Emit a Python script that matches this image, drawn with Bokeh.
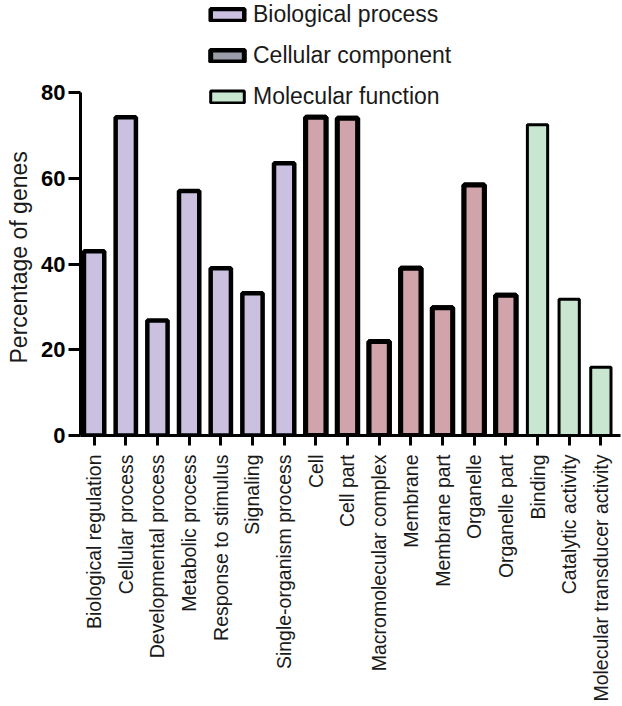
import math
import numpy as np
from bokeh.plotting import figure
from bokeh.models import ColumnDataSource, Range1d, FixedTicker, Legend, LegendItem, Title
from bokeh.embed import file_html
from bokeh.resources import INLINE

categories = [
    "Biological regulation", "Cellular process", "Developmental process",
    "Metabolic process", "Response to stimulus", "Signaling",
    "Single-organism process", "Cell", "Cell part", "Macromolecular complex",
    "Membrane", "Membrane part", "Organelle", "Organelle part",
    "Binding", "Catalytic activity", "Molecular transducer activity",
]
percentages = [43, 74.2, 26.8, 57, 39, 33.2, 63.5, 74.2, 74, 21.9,
               39, 29.8, 58.4, 32.7, 72.5, 31.8, 15.9]
groups = (["Biological process"] * 7 + ["Cellular component"] * 7
          + ["Molecular function"] * 3)
group_names = ["Biological process", "Cellular component", "Molecular function"]
y_ticks = [0, 20, 40, 60, 80]
y_max = 80

bar_fill = {"Biological process": "#cbc0e0", "Cellular component": "#d1a3aa",
            "Molecular function": "#c8e6d0"}
legend_fill = {"Biological process": "#cbc0e0", "Cellular component": "#9b9daa",
               "Molecular function": "#c8e6d0"}
bar_line = {"Biological process": 4.5, "Cellular component": 5,
            "Molecular function": 3}

FONT = "Liberation Sans"

W, H = 622, 706
B_LEFT, B_RIGHT, B_TOP, B_BOTTOM = 78, 2, 0, 271
frame_h = H - B_TOP - B_BOTTOM
y_top_px = 92  # where the 80 line sits, leaving room for the legend above
y_end = y_max * frame_h / (frame_h - (y_top_px - B_TOP))

p = figure(width=W, height=H,
           x_range=Range1d(-0.43, 16.62), y_range=Range1d(0, y_end),
           output_backend="svg", toolbar_location=None,
           min_border_left=B_LEFT, min_border_right=B_RIGHT,
           min_border_top=B_TOP, min_border_bottom=B_BOTTOM)
p.background_fill_color = "white"
p.border_fill_color = "white"
p.outline_line_color = None
p.xgrid.visible = False
p.ygrid.visible = False

idx = np.arange(len(categories))
legend_renderers = {}
for g in group_names:
    sel = [i for i, gg in enumerate(groups) if gg == g]
    src = ColumnDataSource(dict(x=idx[sel], top=[percentages[i] for i in sel]))
    if legend_fill[g] != bar_fill[g]:
        # legend-colour twin, fully hidden under the real bars
        legend_renderers[g] = p.vbar(x="x", top="top", bottom=0, width=0.64,
                                     source=src, fill_color=legend_fill[g],
                                     line_color="black", line_width=bar_line[g])
    r = p.vbar(x="x", top="top", bottom=0, width=0.64, source=src,
               fill_color=bar_fill[g], line_color="black", line_width=bar_line[g])
    legend_renderers.setdefault(g, r)

items = [LegendItem(label=g, renderers=[legend_renderers[g]]) for g in group_names]

ROW_H, ROW_GAP = 28, 13
legend_h = 3 * ROW_H + 2 * ROW_GAP
legend = Legend(items=items, location=(126, frame_h - legend_h), orientation="vertical",
                glyph_width=42, glyph_height=15, label_standoff=5,
                spacing=ROW_GAP, padding=0, margin=0, label_height=ROW_H,
                border_line_alpha=0, background_fill_alpha=0,
                label_text_font=FONT, label_text_font_size="23px",
                label_text_color="#1a1a1a")
p.add_layout(legend, "center")

# y axis
ya = p.yaxis[0]
ya.bounds = (0, y_max)
ya.ticker = FixedTicker(ticks=y_ticks)
ya.minor_tick_line_color = None
ya.major_tick_in = 0
ya.major_tick_out = 12
ya.major_tick_line_width = 3
ya.axis_line_width = 3
ya.major_label_standoff = 3
ya.major_label_text_font = FONT
ya.major_label_text_font_style = "bold"
ya.major_label_text_font_size = "22px"
ya.major_label_text_color = "black"

# y axis title, placed along the 0-80 stretch of the axis
ylab = Title(text="Percentage of genes", align="left", offset=72,
             vertical_align="top", standoff=10,
             text_font=FONT, text_font_style="normal", text_font_size="23px",
             text_color="#1a1a1a")
p.add_layout(ylab, "left")

# x axis
xa = p.xaxis[0]
xa.ticker = FixedTicker(ticks=list(range(len(categories))))
xa.major_label_overrides = {int(i): c for i, c in enumerate(categories)}
xa.major_label_orientation = math.pi / 2
xa.minor_tick_line_color = None
xa.major_tick_in = 0
xa.major_tick_out = 10
xa.major_tick_line_width = 3
xa.axis_line_width = 3
xa.major_label_standoff = 9
xa.major_label_text_font = FONT
xa.major_label_text_font_size = "19.5px"
xa.major_label_text_color = "#1a1a1a"

open("out.html", "w").write(file_html(p, INLINE))
